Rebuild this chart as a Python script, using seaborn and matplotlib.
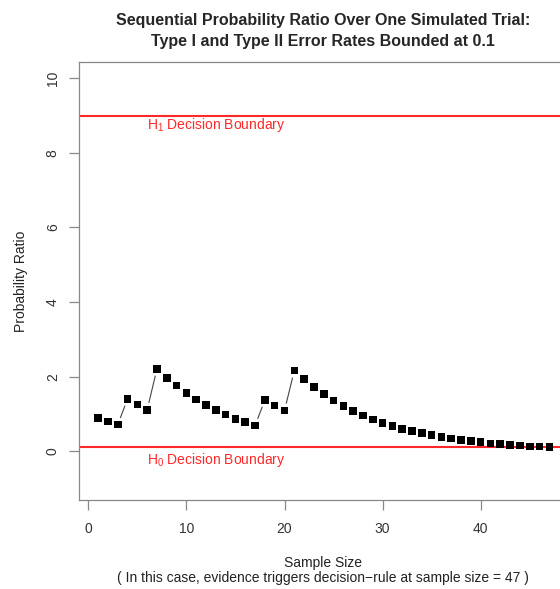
import matplotlib
matplotlib.use("Agg")
import matplotlib.pyplot as plt
import numpy as np
import pandas as pd
import seaborn as sns

sample_size = list(range(1, 48))
prob_ratio = [0.89, 0.80, 0.71, 1.40, 1.25, 1.11, 2.21, 1.97, 1.76, 1.56,
              1.39, 1.24, 1.10, 0.98, 0.87, 0.78, 0.69, 1.37, 1.22, 1.09,
              2.16, 1.93, 1.72, 1.53, 1.36, 1.21, 1.08, 0.96, 0.85, 0.76,
              0.68, 0.60, 0.54, 0.48, 0.43, 0.38, 0.34, 0.30, 0.27, 0.24,
              0.21, 0.19, 0.17, 0.15, 0.13, 0.12, 0.105]
h1_bound = 9.0
h0_bound = 0.111
h1_label = "H$_1$ Decision Boundary"
h0_label = "H$_0$ Decision Boundary"
title = ("Sequential Probability Ratio Over One Simulated Trial:\n"
         "Type I and Type II Error Rates Bounded at 0.1")
x_ticks = [0, 10, 20, 30, 40]
y_ticks = [0, 2, 4, 6, 8, 10]

df = pd.DataFrame({"n": sample_size, "ratio": prob_ratio})

sns.set_style("white")
plt.rcParams["font.family"] = ["Liberation Sans", "DejaVu Sans"]
plt.rcParams["mathtext.fontset"] = "custom"
plt.rcParams["mathtext.rm"] = "Liberation Sans"
plt.rcParams["mathtext.default"] = "regular"

fig = plt.figure(figsize=(5.6, 5.89), dpi=100)
ax = fig.add_axes([0.1416, 0.1511, 0.8716, 0.7431])
ax.set_xlim(-0.92, 48.84)
ax.set_ylim(-1.31, 10.43)

sns.scatterplot(data=df, x="n", y="ratio", marker="s", s=30, color="black",
                edgecolor="none", ax=ax, zorder=3)

# R type="b": connecting lines with a gap around each point
gap = 7.5
pts = ax.transData.transform(np.column_stack([df["n"], df["ratio"]]))
inv = ax.transData.inverted()
for p, q in zip(pts[:-1], pts[1:]):
    d = q - p
    L = np.hypot(*d)
    if L > 2 * gap:
        a = inv.transform(p + d * gap / L)
        b = inv.transform(q - d * gap / L)
        ax.plot([a[0], b[0]], [a[1], b[1]], color="#444444", lw=0.8)

ax.axhline(h1_bound, color="#ff2828", lw=1.5)
ax.axhline(h0_bound, color="#ff2828", lw=1.5)
ax.text(13, h1_bound - 0.25, h1_label, color="#ff2828", fontsize=10,
        ha="center", va="center")
ax.text(13, h0_bound - 0.36, h0_label, color="#ff2828", fontsize=10,
        ha="center", va="center")

ax.set_xticks(x_ticks)
ax.set_yticks(y_ticks)
ax.set_yticklabels([str(v) for v in y_ticks], rotation=90, va="center")
ax.tick_params(axis="both", direction="out", length=7, width=0.9,
               color="#888888", labelsize=10, labelcolor="#333333", pad=7,
               bottom=True, left=True)
ax.tick_params(axis="x", pad=9)
for s in ax.spines.values():
    s.set_color("#888888")
    s.set_linewidth(0.9)

ax.set_xlabel("Sample Size\n( In this case, evidence triggers decision\u2212rule at sample size = 47 )",
              fontsize=10, color="#222222", labelpad=14, linespacing=1.1)
ax.set_ylabel("Probability Ratio", fontsize=10, color="#222222", labelpad=13)
ax.set_title(title, fontsize=11.5, fontweight="bold", pad=12, linespacing=1.45)

fig.savefig("out.png", dpi=100)
